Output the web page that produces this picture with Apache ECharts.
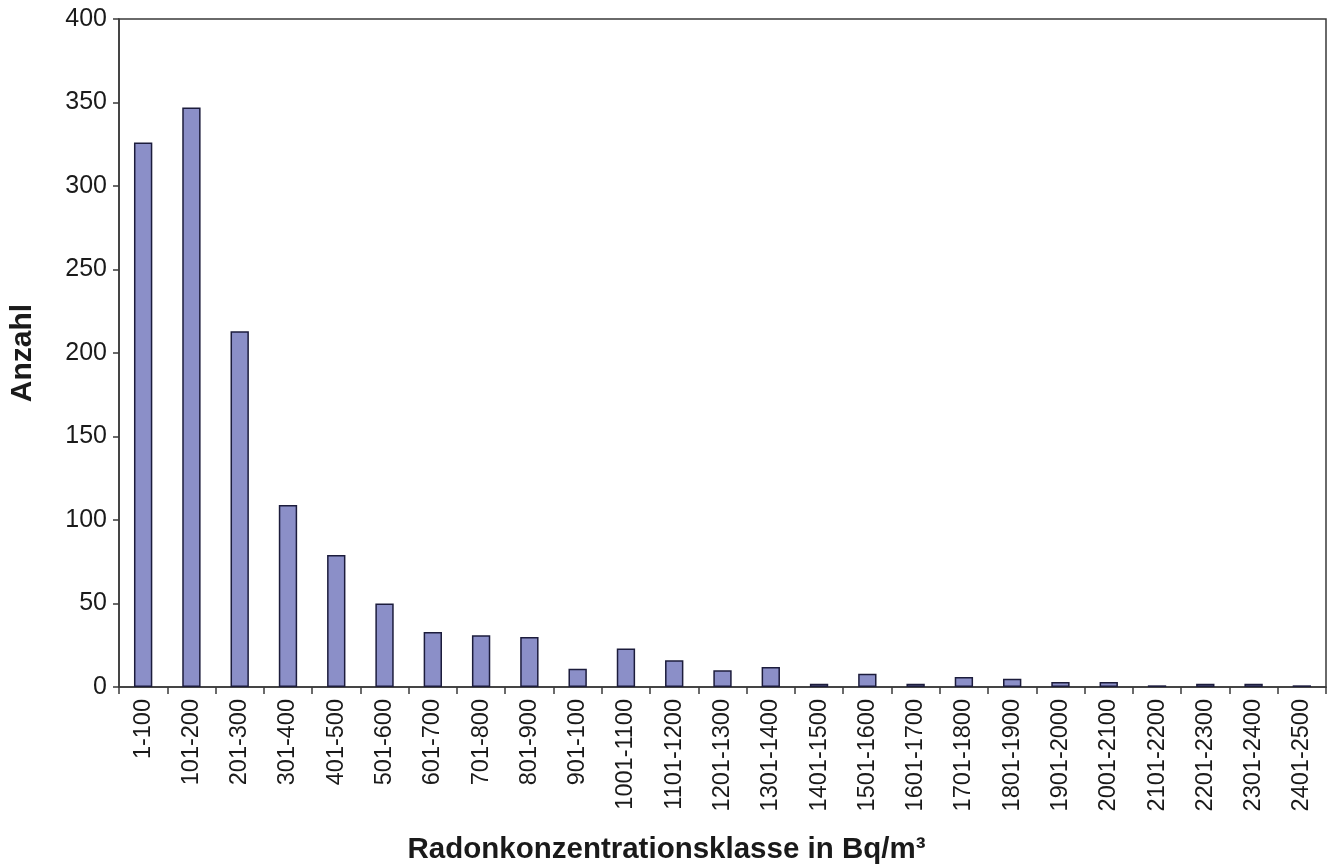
<!DOCTYPE html>
<html>
<head>
<meta charset="utf-8">
<script src="https://cdn.jsdelivr.net/npm/echarts@6/dist/echarts.min.js"></script>
<style>html,body{margin:0;padding:0;background:#fff;}#c{width:1333px;height:866px;}</style>
</head>
<body>
<div id="c"></div>
<script>
var categories = ['1-100','101-200','201-300','301-400','401-500','501-600','601-700','701-800','801-900','901-100','1001-1100','1101-1200','1201-1300','1301-1400','1401-1500','1501-1600','1601-1700','1701-1800','1801-1900','1901-2000','2001-2100','2101-2200','2201-2300','2301-2400','2401-2500'];
var counts = [326,347,213,109,79,50,33,31,30,11,23,16,10,12,2,8,2,6,5,3,3,1,2,2,1];
var yTicks = [0,50,100,150,200,250,300,350,400];
var xTitle = 'Radonkonzentrationsklasse in Bq/m³';
var yTitle = 'Anzahl';

var chart = echarts.init(document.getElementById('c'));
var font = 'Liberation Sans, Arial, sans-serif';
chart.setOption({
  animation: false,
  backgroundColor: '#ffffff',
  grid: { left: 119, right: 7, top: 19, bottom: 179, containLabel: false, outerBoundsMode: 'none', show: true, borderColor: '#3a3a3a', borderWidth: 1.5, backgroundColor: 'transparent' },
  xAxis: {
    type: 'category',
    data: categories,
    axisLine: { lineStyle: { color: '#3a3a3a', width: 1.5 } },
    axisTick: { show: true, alignWithLabel: false, length: 7, lineStyle: { color: '#3a3a3a', width: 1.5 } },
    axisLabel: { rotate: 90, interval: 0, margin: 12, color: '#1a1a1a', fontSize: 23.5, fontFamily: font }
  },
  yAxis: {
    type: 'value',
    min: yTicks[0],
    max: yTicks[yTicks.length - 1],
    interval: 50,
    name: yTitle,
    nameLocation: 'middle',
    nameGap: 81,
    nameTextStyle: { fontSize: 30, fontWeight: 'bold', color: '#1a1a1a', fontFamily: font },
    splitLine: { show: false },
    axisLine: { show: true, lineStyle: { color: '#3a3a3a', width: 1.5 } },
    axisTick: { show: true, length: 6, lineStyle: { color: '#3a3a3a', width: 1.5 } },
    axisLabel: { margin: 12, color: '#1a1a1a', fontSize: 25, fontFamily: font }
  },
  graphic: [{
    type: 'text',
    left: 'center',
    top: 835,
    style: { text: xTitle, font: 'bold 29.5px ' + font, fill: '#1a1a1a' }
  }],
  series: [{
    type: 'bar',
    data: counts,
    barWidth: '38%',
    itemStyle: { color: '#8b8fc8', borderColor: '#1c1c3c', borderWidth: 1.5 }
  }]
});
</script>
</body>
</html>
